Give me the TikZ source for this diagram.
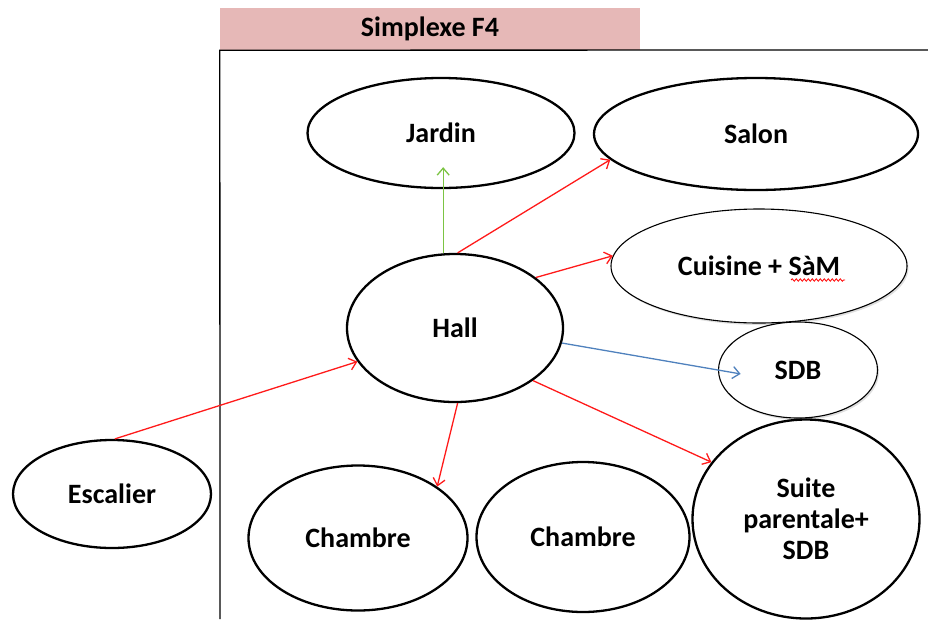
\documentclass[tikz,border=0pt]{standalone}
\usepackage{fontspec}
\setmainfont{Carlito}
\usetikzlibrary{arrows.meta,shapes.geometric,calc,shadows,decorations.pathmorphing}
\definecolor{header}{HTML}{E6B8B7}
\definecolor{redline}{HTML}{FF1A1A}
\definecolor{greenline}{HTML}{7CC443}
\definecolor{blueline}{HTML}{4F81BD}
\tikzset{
  room/.style={
    ellipse, draw=black, line width=2.3pt, fill=white,
    inner sep=0pt, align=center,
    font=\fontsize{28}{31}\selectfont\bfseries
  },
  thinroom/.style={
    room, line width=1.1pt,
    drop shadow={opacity=0.25, shadow xshift=1.5pt, shadow yshift=-2pt}
  },
  arrow/.style={-{Straight Barb[length=7pt,width=12pt]}, line width=1.3pt}
}

\begin{document}
\begin{tikzpicture}[x=1pt, y=-1pt]
  \useasboundingbox (0,0) rectangle (928,619);
  \node[fill=header, minimum width=420pt, minimum height=42pt, inner sep=0pt,
    font=\fontsize{28}{31}\selectfont\bfseries] (title) at (430,29) {Simplexe F4};
  \draw[line width=1.3pt] (220,619) -- (title.south west) -- (928,50);
  % pieces
  \node[room, minimum width=267pt, minimum height=110pt] (jardin) at (441,133) {Jardin};
  \node[room, minimum width=324pt, minimum height=112pt] (salon) at (756,134) {Salon};
  \node[thinroom, minimum width=296pt, minimum height=114pt] (cuisine) at (759,266) {Cuisine + SàM};
  \node[room, minimum width=216pt, minimum height=148pt] (hall) at (455,328) {Hall};
  \node[thinroom, minimum width=159pt, minimum height=96pt] (sdb) at (798,370) {SDB};
  \node[room, minimum width=198pt, minimum height=108pt] (escalier) at (112,494) {Escalier};
  \node[room, minimum width=219pt, minimum height=145pt] (chambreA) at (358,538) {Chambre};
  \node[room, minimum width=213pt, minimum height=150pt] (chambreB) at (583,537) {Chambre};
  \node[room, minimum width=227pt, minimum height=199pt] (suite) at (806,519) {Suite\\parentale+\\SDB};
  \draw[red, line width=0.8pt, decorate, decoration={snake, amplitude=1.2pt, segment length=4pt}]
    ($(cuisine.center)+(32,14)$) -- ++(54,0);
  % liaisons
  \draw[arrow, greenline, shorten >=-22pt] (hall.99) -- (hall.99 |- jardin.south);
  \draw[arrow, redline] (hall.88) -- (salon.190);
  \draw[arrow, redline] (hall.32) -- (cuisine.176);
  \draw[arrow, blueline, shorten >=-23pt] (hall.-8) -- (sdb.west);
  \draw[arrow, redline] (hall.-34) -- (suite.149);
  \draw[arrow, redline] (hall.-88) -- (chambreA.33);
  \draw[arrow, redline] (escalier.87) -- (hall.199);
\end{tikzpicture}
\end{document}
